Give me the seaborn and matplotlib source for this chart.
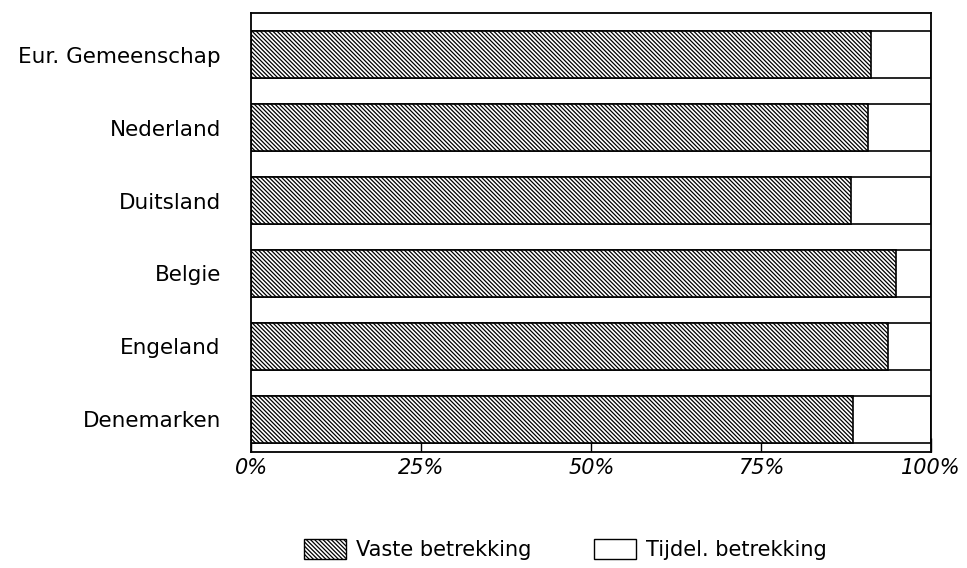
import matplotlib
matplotlib.use("Agg")
import matplotlib.pyplot as plt
import seaborn as sns
import pandas as pd
from matplotlib.patches import Patch

categories = ["Eur. Gemeenschap", "Nederland", "Duitsland", "Belgie", "Engeland", "Denemarken"]
vaste = [91.2, 90.7, 88.2, 94.8, 93.6, 88.5]
tijdel = [100 - v for v in vaste]
xticks = [0, 25, 50, 75, 100]
xticklabels = ["0%", "25%", "50%", "75%", "100%"]

sns.set_theme(style="white")
plt.rcParams["font.family"] = ["DejaVu Sans"]
plt.rcParams["hatch.linewidth"] = 0.9
plt.rcParams["text.color"] = "black"
plt.rcParams["xtick.color"] = "black"
plt.rcParams["ytick.color"] = "black"

HATCH = "\\\\\\\\\\\\\\\\"

df = pd.DataFrame({"land": categories, "vaste": vaste,
                   "totaal": [v + t for v, t in zip(vaste, tijdel)]})

fig = plt.figure(figsize=(9.67, 5.68), dpi=100)
ax = fig.add_axes([0.26, 0.204, 0.703, 0.773])

sns.barplot(data=df, y="land", x="totaal", orient="h", color="white",
            edgecolor="black", linewidth=1.2, width=0.64, ax=ax, saturation=1)
sns.barplot(data=df, y="land", x="vaste", orient="h", color="white",
            edgecolor="black", linewidth=1.2, width=0.64, ax=ax, saturation=1,
            hatch=HATCH)

ax.set_xlim(0, 100)
ax.set_ylim(5.45, -0.57)
ax.set_xticks(xticks)
ax.set_xticklabels(xticklabels, fontsize=15, style="italic")
ax.tick_params(axis="x", direction="in", length=10, width=1, color="black", pad=4, bottom=True)
ax.tick_params(axis="y", direction="in", length=6, width=1, color="black", pad=22, left=True)
ax.set_yticks(range(len(categories)))
ax.set_yticklabels(categories, fontsize=15.5)
ax.set_xlabel("")
ax.set_ylabel("")
for s in ax.spines.values():
    s.set_color("black")
    s.set_linewidth(1.3)

handles = [Patch(facecolor="white", edgecolor="black", hatch=HATCH, label="Vaste betrekking"),
           Patch(facecolor="white", edgecolor="black", label="Tijdel. betrekking")]
fig.legend(handles=handles, loc="center", bbox_to_anchor=(0.585, 0.033), ncol=2,
           frameon=False, fontsize=15, handlelength=2.0, handleheight=1.1,
           handletextpad=0.5, columnspacing=3.0)

fig.savefig("out.png", dpi=100)
